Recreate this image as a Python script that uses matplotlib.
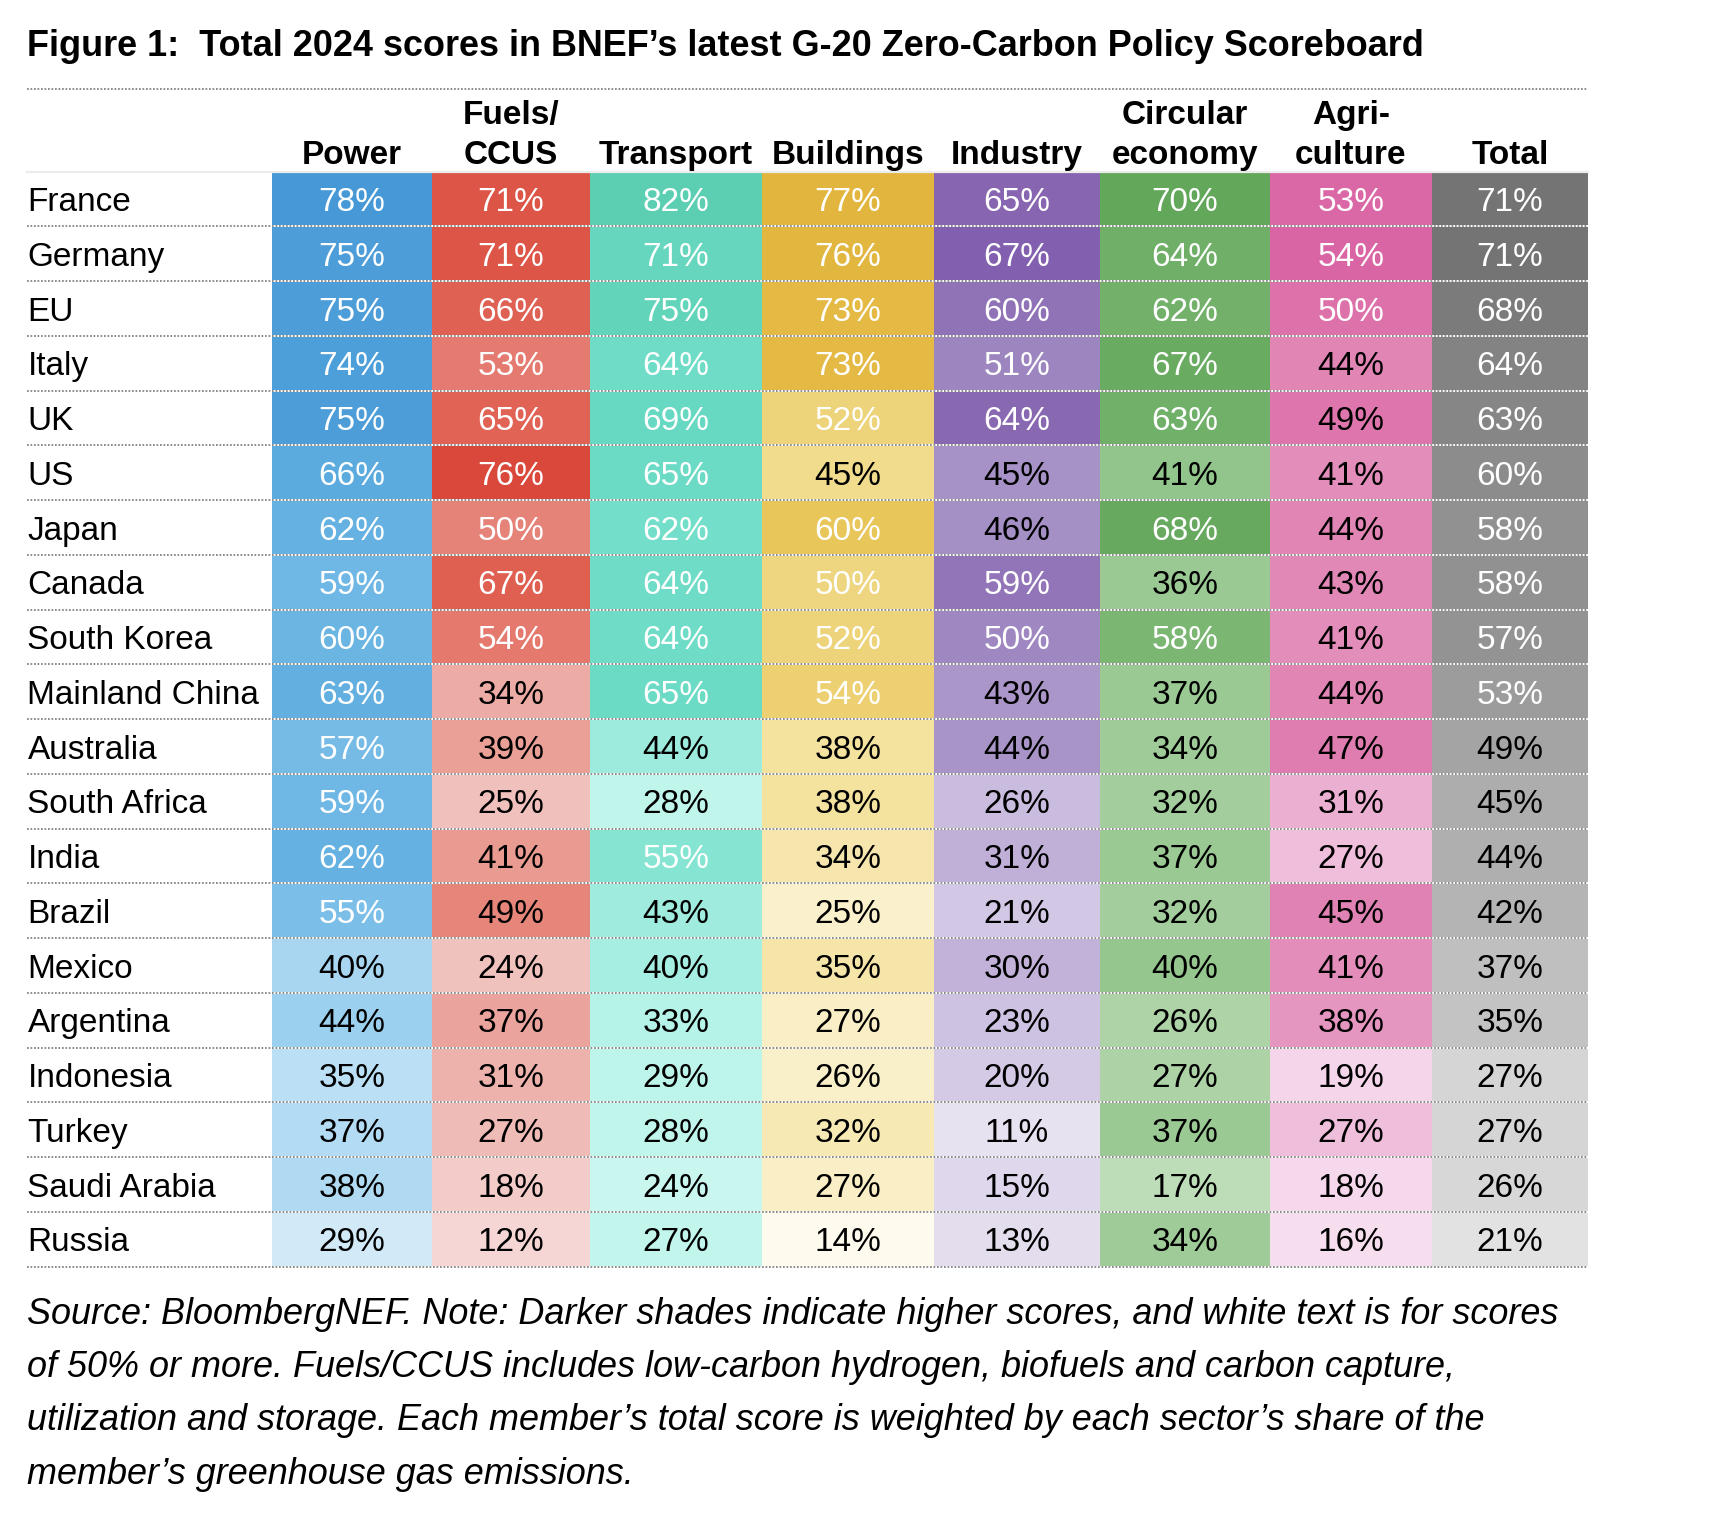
import matplotlib
matplotlib.use("Agg")
import matplotlib.pyplot as plt
import matplotlib.colors as mcolors
import numpy as np

plt.rcParams['font.family'] = ['Liberation Sans', 'DejaVu Sans']

# ---------------- data ----------------
countries = ["France", "Germany", "EU", "Italy", "UK", "US", "Japan", "Canada",
             "South Korea", "Mainland China", "Australia", "South Africa", "India",
             "Brazil", "Mexico", "Argentina", "Indonesia", "Turkey", "Saudi Arabia", "Russia"]

header_top = ["", "Fuels/", "", "", "", "Circular", "Agri-", ""]
header_bottom = ["Power", "CCUS", "Transport", "Buildings", "Industry", "economy", "culture", "Total"]

power = [78, 75, 75, 74, 75, 66, 62, 59, 60, 63, 57, 59, 62, 55, 40, 44, 35, 37, 38, 29]
fuels = [71, 71, 66, 53, 65, 76, 50, 67, 54, 34, 39, 25, 41, 49, 24, 37, 31, 27, 18, 12]
transport = [82, 71, 75, 64, 69, 65, 62, 64, 64, 65, 44, 28, 55, 43, 40, 33, 29, 28, 24, 27]
buildings = [77, 76, 73, 73, 52, 45, 60, 50, 52, 54, 38, 38, 34, 25, 35, 27, 26, 32, 27, 14]
industry = [65, 67, 60, 51, 64, 45, 46, 59, 50, 43, 44, 26, 31, 21, 30, 23, 20, 11, 15, 13]
circular = [70, 64, 62, 67, 63, 41, 68, 36, 58, 37, 34, 32, 37, 32, 40, 26, 27, 37, 17, 34]
agri = [53, 54, 50, 44, 49, 41, 44, 43, 41, 44, 47, 31, 27, 45, 41, 38, 19, 27, 18, 16]
total = [71, 71, 68, 64, 63, 60, 58, 58, 57, 53, 49, 45, 44, 42, 37, 35, 27, 27, 26, 21]

title = "Figure 1:  Total 2024 scores in BNEF\u2019s latest G-20 Zero-Carbon Policy Scoreboard"
footnote_lines = [
    "Source: BloombergNEF. Note: Darker shades indicate higher scores, and white text is for scores",
    "of 50% or more. Fuels/CCUS includes low-carbon hydrogen, biofuels and carbon capture,",
    "utilization and storage. Each member\u2019s total score is weighted by each sector\u2019s share of the",
    "member\u2019s greenhouse gas emissions.",
]

# ---------------- style ----------------
series = [power, fuels, transport, buildings, industry, circular, agri, total]
color_anchors = [
    [(29, '#d2eaf8'), (40, '#a8d6f1'), (55, '#7bbfe8'), (63, '#62afe0'), (78, '#4699d6')],
    [(12, '#f5d6d4'), (25, '#f0c0bc'), (41, '#e99b92'), (53, '#e57b70'), (67, '#df5f51'), (76, '#d9483a')],
    [(24, '#c9f7ef'), (33, '#b5f3e8'), (44, '#9debdd'), (55, '#85e5d2'), (65, '#6bdbc5'), (82, '#5ccfb2')],
    [(14, '#fefaee'), (27, '#f9eec5'), (38, '#f4e29f'), (52, '#edd37a'), (60, '#e9c65a'), (77, '#e2b63e')],
    [(11, '#e7e2f0'), (21, '#d2c7e4'), (31, '#c0b0d8'), (45, '#a692c6'), (59, '#9275b8'), (67, '#8360af')],
    [(17, '#bddcb8'), (32, '#a3cd9c'), (41, '#92c58b'), (58, '#7bb673'), (70, '#63a75b')],
    [(16, '#f7deee'), (27, '#eebedb'), (38, '#e596c0'), (47, '#df7cb0'), (54, '#da65a4')],
    [(21, '#e2e2e2'), (71, '#747474')],
]


def shade(v, anchors):
    xs = [a[0] for a in anchors]
    rgbs = np.array([mcolors.to_rgb(a[1]) for a in anchors])
    return tuple(np.interp(v, xs, rgbs[:, k]) for k in range(3))


W, H = 1724, 1516
fig = plt.figure(figsize=(W / 100, H / 100), dpi=100)
ax = fig.add_axes([0, 0, 1, 1])
ax.set_xlim(0, W)
ax.set_ylim(H, 0)
ax.axis('off')

FS = 24
FS_TITLE = 25.9
FS_NOTE = 25.9
left = 27.5
right = 1588
col_edges = [272, 432, 590, 762, 934, 1100, 1270, 1432, 1588]
table_top = 171.7
row_h = 54.75
cap_half = 0.358 * FS * 100 / 72

# title
ax.text(left, 56, title, fontsize=FS_TITLE, fontweight='bold', ha='left', va='baseline', color='black')


def dotted(y):
    ax.plot([left, right], [y, y], color='white', lw=1.4, solid_capstyle='butt', zorder=3)
    ax.plot([left, right], [y, y], color='#8c8c8c', lw=1.4, linestyle=(0, (0.9, 0.9)), zorder=4)


dotted(89.3)

# headers
for j in range(len(header_bottom)):
    xc = (col_edges[j] + col_edges[j + 1]) / 2
    ax.text(xc, 164, header_bottom[j], fontsize=FS, fontweight='bold', ha='center', va='baseline')
    if header_top[j]:
        ax.text(xc, 124, header_top[j], fontsize=FS, fontweight='bold', ha='center', va='baseline')

# light line under headers
ax.plot([left, right], [table_top, table_top], color='#ececec', lw=1.6, zorder=2)

# cells
for i, name in enumerate(countries):
    y0 = table_top + i * row_h
    yc = y0 + row_h / 2
    ax.text(left, yc + cap_half, name, fontsize=FS, ha='left', va='baseline', color='black')
    for j, vals in enumerate(series):
        v = vals[i]
        x0, x1 = col_edges[j], col_edges[j + 1]
        ax.add_patch(plt.Rectangle((x0, y0), x1 - x0, row_h, facecolor=shade(v, color_anchors[j]),
                                   edgecolor='none', zorder=1))
        ax.text((x0 + x1) / 2, yc + cap_half, f"{v}%", fontsize=FS, ha='center', va='baseline',
                color='white' if v >= 50 else 'black', zorder=5)
    if i > 0:
        dotted(y0)

dotted(table_top + len(countries) * row_h)

# footnote
for k, line in enumerate(footnote_lines):
    ax.text(left, 1324 + k * 53.2, line, fontsize=FS_NOTE, style='italic', ha='left', va='baseline')

fig.savefig("out.png", dpi=100)
